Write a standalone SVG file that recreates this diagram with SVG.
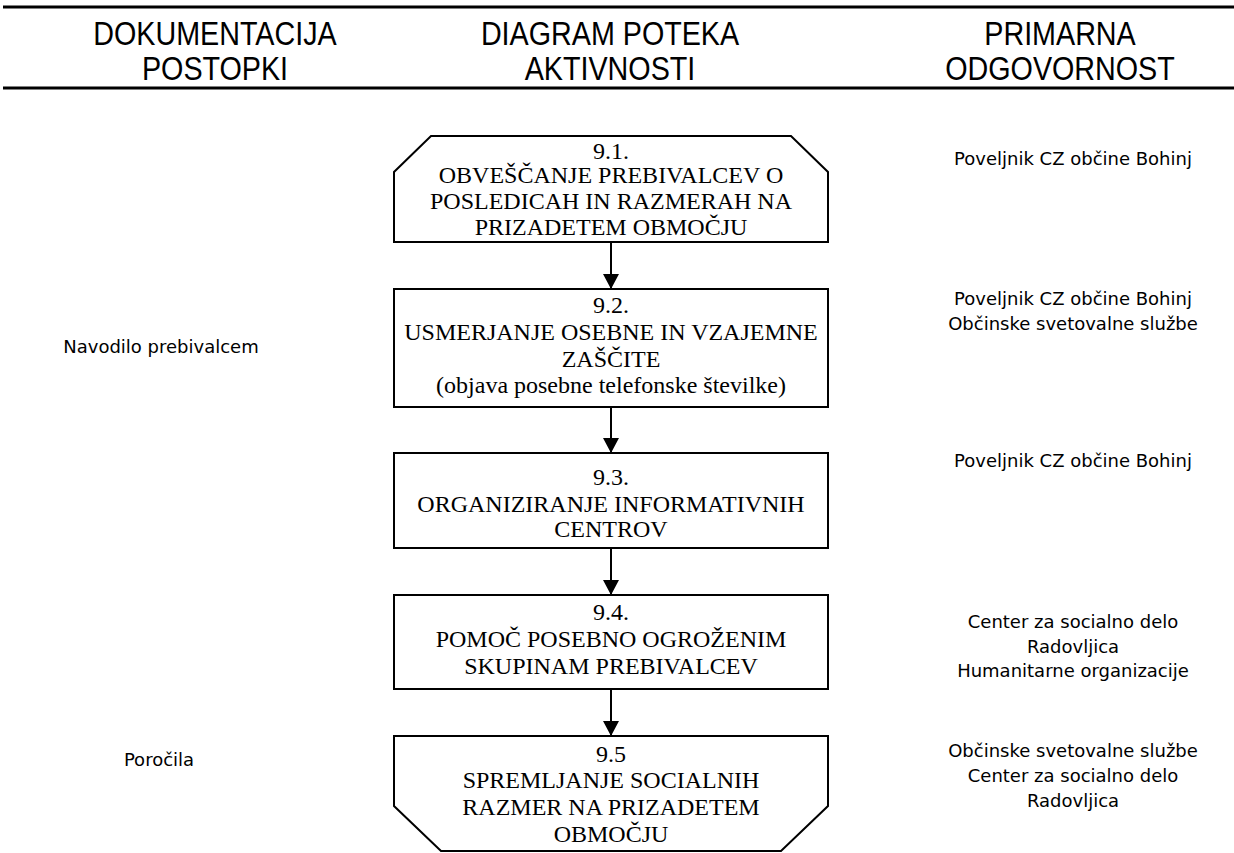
<svg xmlns="http://www.w3.org/2000/svg" width="1234" height="853" viewBox="0 0 1234 853">
<style>
.hdr{font-family:"Liberation Sans",Arial,sans-serif;font-size:33px;fill:#000;text-anchor:middle}
.box{fill:#fff;stroke:#000;stroke-width:2}
.nt{font-family:"Liberation Serif","Times New Roman",serif;font-size:24px;fill:#000;text-anchor:middle}
.side{font-family:"DejaVu Sans",Verdana,sans-serif;font-size:18px;fill:#000;text-anchor:middle}
.rule{stroke:#000;stroke-width:3}
.conn{stroke:#000;stroke-width:2;fill:none}
</style>
<defs>
<marker id="ah" markerWidth="16" markerHeight="16" refX="15" refY="8" orient="auto" markerUnits="userSpaceOnUse">
<path d="M0,0 L15,8 L0,16 Z" fill="#000"/>
</marker>
</defs>
<rect width="1234" height="853" fill="#fff"/>
<g id="header">
<line class="rule" x1="3" y1="7" x2="1234" y2="7"/>
<line class="rule" x1="3" y1="88" x2="1234" y2="88"/>
<g transform="translate(215,0) scale(0.87,1)">
<text class="hdr" x="0" y="45">DOKUMENTACIJA</text>
<text class="hdr" x="0" y="80">POSTOPKI</text>
</g>
<g transform="translate(610,0) scale(0.87,1)">
<text class="hdr" x="0" y="45">DIAGRAM POTEKA</text>
<text class="hdr" x="0" y="80">AKTIVNOSTI</text>
</g>
<g transform="translate(1060,0) scale(0.87,1)">
<text class="hdr" x="0" y="45">PRIMARNA</text>
<text class="hdr" x="0" y="80">ODGOVORNOST</text>
</g>
</g>
<g id="connectors">
<line class="conn" x1="611" y1="242" x2="611" y2="289" marker-end="url(#ah)"/>
<line class="conn" x1="611" y1="407" x2="611" y2="453" marker-end="url(#ah)"/>
<line class="conn" x1="611" y1="548" x2="611" y2="595" marker-end="url(#ah)"/>
<line class="conn" x1="611" y1="689" x2="611" y2="736" marker-end="url(#ah)"/>
</g>
<g id="n91">
<polygon class="box" points="394,242 394,172 431,136 791,136 828,172 828,242"/>
<text class="nt" x="611" y="159">9.1.</text>
<text class="nt" x="611" y="183">OBVEŠČANJE PREBIVALCEV O</text>
<text class="nt" x="611" y="209">POSLEDICAH IN RAZMERAH NA</text>
<text class="nt" x="611" y="235">PRIZADETEM OBMOČJU</text>
</g>
<g id="n92">
<rect class="box" x="394" y="289" width="434" height="118"/>
<text class="nt" x="611" y="313">9.2.</text>
<text class="nt" x="611" y="340">USMERJANJE OSEBNE IN VZAJEMNE</text>
<text class="nt" x="611" y="367">ZAŠČITE</text>
<text class="nt" x="611" y="393">(objava posebne telefonske številke)</text>
</g>
<g id="n93">
<rect class="box" x="394" y="453" width="434" height="95"/>
<text class="nt" x="611" y="485">9.3.</text>
<text class="nt" x="611" y="512">ORGANIZIRANJE INFORMATIVNIH</text>
<text class="nt" x="611" y="537">CENTROV</text>
</g>
<g id="n94">
<rect class="box" x="394" y="595" width="434" height="94"/>
<text class="nt" x="611" y="620">9.4.</text>
<text class="nt" x="611" y="647">POMOČ POSEBNO OGROŽENIM</text>
<text class="nt" x="611" y="674">SKUPINAM PREBIVALCEV</text>
</g>
<g id="n95">
<polygon class="box" points="394,736 828,736 828,806 781,851 441,851 394,806"/>
<text class="nt" x="611" y="762">9.5</text>
<text class="nt" x="611" y="788">SPREMLJANJE SOCIALNIH</text>
<text class="nt" x="611" y="815">RAZMER NA PRIZADETEM</text>
<text class="nt" x="611" y="842">OBMOČJU</text>
</g>
<g id="left">
<text class="side" x="161" y="353">Navodilo prebivalcem</text>
<text class="side" x="159" y="766">Poročila</text>
</g>
<g id="right">
<text class="side" x="1073" y="165">Poveljnik CZ občine Bohinj</text>
<text class="side" x="1073" y="305">Poveljnik CZ občine Bohinj</text>
<text class="side" x="1073" y="330">Občinske svetovalne službe</text>
<text class="side" x="1073" y="467">Poveljnik CZ občine Bohinj</text>
<text class="side" x="1073" y="628">Center za socialno delo</text>
<text class="side" x="1073" y="653">Radovljica</text>
<text class="side" x="1073" y="677">Humanitarne organizacije</text>
<text class="side" x="1073" y="757">Občinske svetovalne službe</text>
<text class="side" x="1073" y="782">Center za socialno delo</text>
<text class="side" x="1073" y="807">Radovljica</text>
</g>
</svg>
